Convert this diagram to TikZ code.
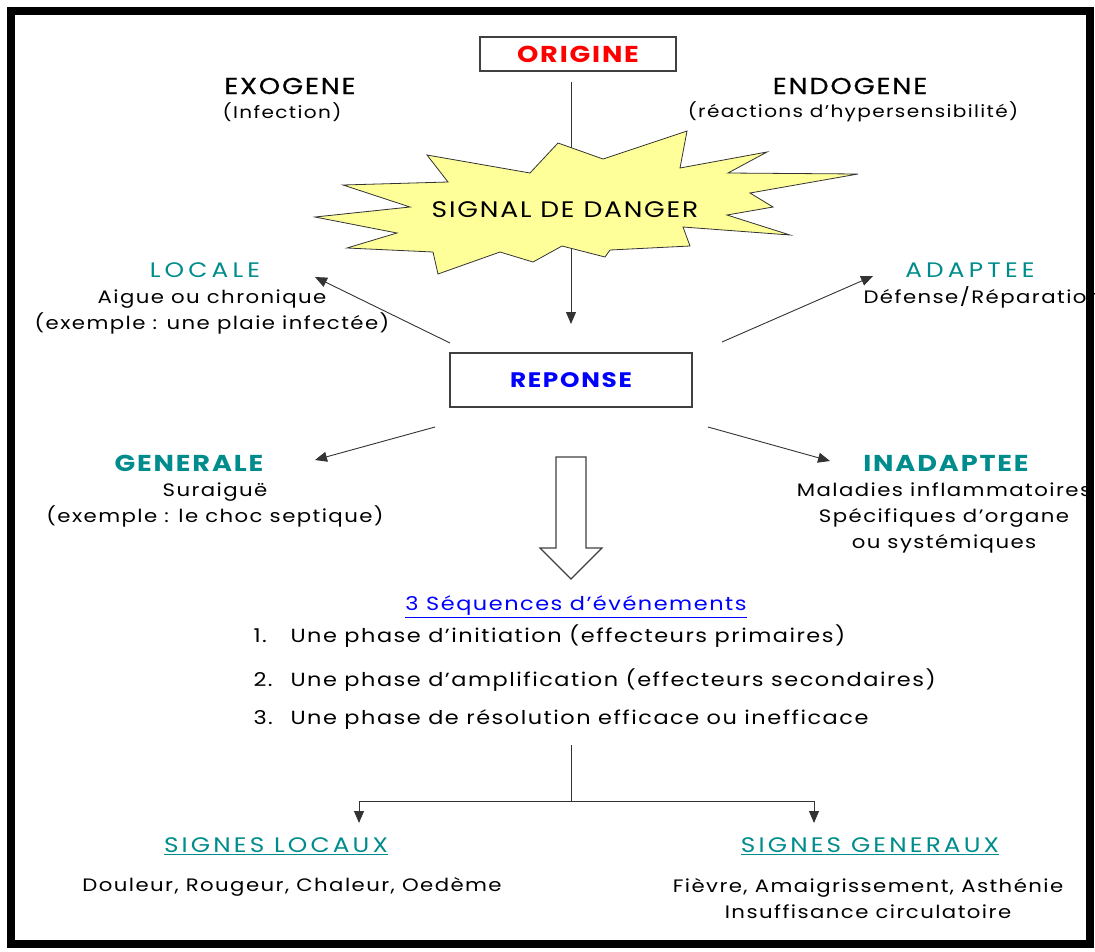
\documentclass[tikz,border=0pt]{standalone}
\usepackage{fontspec}
\setmainfont{Poppins}[FakeStretch=1.18,LetterSpace=8]
\usetikzlibrary{arrows.meta,calc}
\definecolor{headteal}{RGB}{0,140,140}
\definecolor{starfill}{RGB}{255,255,153}
\tikzset{
  bigtitle/.style={font=\fontsize{23}{27}\selectfont\addfontfeature{FakeBold=0.6}},
  smallnote/.style={font=\fontsize{17}{26}\selectfont, align=center},
  bodytext/.style={font=\fontsize{18}{26}\selectfont, align=center},
  listline/.style={font=\fontsize{19}{23}\selectfont, anchor=west},
  tealhead/.style={font=\fontsize{21}{25}\selectfont, text=headteal},
  framebox/.style={draw=black!75, line width=1.2pt, minimum height=34pt},
  thinarrow/.style={draw=black!80, line width=0.9pt, -{Triangle[length=12pt,width=10pt]}},
}

\begin{document}
\begin{tikzpicture}[x=1pt,y=-1pt]
  \useasboundingbox (0,0) rectangle (1095,951);
  %%%%% top part %%%%%
  \node[framebox, minimum width=196pt, text=red, font=\fontsize{23}{27}\selectfont\bfseries] (origine) at (578,54) {ORIGINE};
  \node[bigtitle] (exo) at (290,86) {EXOGENE};
  \node[smallnote] (exoinf) at (282,112) {(Infection)};
  \node[bigtitle] (endo) at (850,86) {ENDOGENE};
  \node[smallnote] (endohyp) at (853,112) {(réactions d’hypersensibilité)};

  \coordinate (downtop) at (571,82);
  \coordinate (downend) at (571,324);
  \draw[thinarrow] (downtop) -- (downend);

  % the star
  \draw[fill=starfill, draw=black!80, line width=0.8pt]
    (315,217) -- (410,207) -- (343,185) -- (448,182) -- (427,155) -- (530,173)
    -- (558,143) -- (603,159) -- (687,131) -- (680,168) -- (767,152) -- (728,173)
    -- (858,174) -- (750,193) -- (773,207) -- (727,215) -- (790,235) -- (683,227)
    -- (690,246) -- (610,250) -- (605,257) -- (562,246) -- (533,262) -- (500,252)
    -- (438,274) -- (433,252) -- (347,248) -- (397,233) -- cycle;
  \node[font=\fontsize{22.5}{26}\selectfont] (danger) at (565,210) {SIGNAL DE DANGER};

  %%%%% reponse %%%%%
  \node[framebox, minimum width=242pt, minimum height=54pt, text=blue, font=\fontsize{21}{25}\selectfont\bfseries] (reponse) at (571,380) {REPONSE};

  \node[tealhead, font=\fontsize{21}{25}\selectfont\addfontfeature{LetterSpace=20}] (locale) at (205,270) {LOCALE};
  \node[bodytext] (localetxt) at (212,312) {Aigue ou chronique\\(exemple : une plaie infectée)};
  \node[tealhead, font=\fontsize{21}{25}\selectfont\addfontfeature{LetterSpace=20}] (adaptee) at (970,270) {ADAPTEE};
  \node[bodytext, anchor=west] (adapteetxt) at (860,297) {Défense/Réparation};
  \node[tealhead, font=\fontsize{23}{26}\selectfont\bfseries] (generale) at (189,463) {GENERALE};
  \node[bodytext] (generaletxt) at (215,505) {Suraiguë\\(exemple : le choc septique)};
  \node[tealhead, font=\fontsize{23}{26}\selectfont\bfseries] (inadaptee) at (946,463) {INADAPTEE};
  \node[bodytext] (inadapteetxt) at (944,518) {Maladies inflammatoires\\Spécifiques d’organe\\ou systémiques};

  \coordinate (toloc) at (315,277);
  \coordinate (fromloc) at (450,343);
  \coordinate (toada) at (873,276);
  \coordinate (fromada) at (722,342);
  \coordinate (togen) at (315,460);
  \coordinate (fromgen) at (435,427);
  \coordinate (toinad) at (830,461);
  \coordinate (frominad) at (708,427);
  \draw[thinarrow] (fromloc) -- (toloc);
  \draw[thinarrow] (fromada) -- (toada);
  \draw[thinarrow] (fromgen) -- (togen);
  \draw[thinarrow] (frominad) -- (toinad);

  % hollow arrow
  \draw[line width=1.1pt, draw=black!75, fill=white]
    (556,457) -- (586,457) -- (586,548) -- (602,548) -- (571,579)
    -- (540,548) -- (556,548) -- cycle;

  %%%%% sequences %%%%%
  \node[font=\fontsize{19}{23}\selectfont, text=blue] (seq) at (576,607) {\underline{3 Séquences d’événements}};
  \node[listline] (phase1) at (250,636) {\makebox[37pt][l]{1.}Une phase d’initiation (effecteurs primaires)};
  \node[listline] (phase2) at (250,680) {\makebox[37pt][l]{2.}Une phase d’amplification (effecteurs secondaires)};
  \node[listline] (phase3) at (250,720) {\makebox[37pt][l]{3.}Une phase de résolution efficace ou inefficace};

  \coordinate (splittop) at (571,745);
  \coordinate (split) at (571,801);
  \coordinate (leftbend) at (359,801);
  \coordinate (rightbend) at (814,801);
  \coordinate (leftend) at (359,823);
  \coordinate (rightend) at (814,823);
  \draw[draw=black!80, line width=0.9pt] (splittop) -- (split);
  \draw[thinarrow] (split) -- (leftbend) -- (leftend);
  \draw[thinarrow] (split) -- (rightbend) -- (rightend);

  \node[tealhead, font=\fontsize{21}{25}\selectfont\addfontfeature{LetterSpace=15}] (siglocaux) at (276,846) {\underline{SIGNES LOCAUX}};
  \node[bodytext] (siglocauxtxt) at (292,887) {Douleur, Rougeur, Chaleur, Oedème};
  \node[tealhead, font=\fontsize{21}{25}\selectfont\addfontfeature{LetterSpace=15}] (siggeneraux) at (870,846) {\underline{SIGNES GENERAUX}};
  \node[bodytext] (siggenerauxtxt) at (868,899) {Fièvre, Amaigrissement, Asthénie\\Insuffisance circulatoire};

  % frame
  \draw[line width=8pt] (11,11) rectangle (1090,944);
\end{tikzpicture}
\end{document}
